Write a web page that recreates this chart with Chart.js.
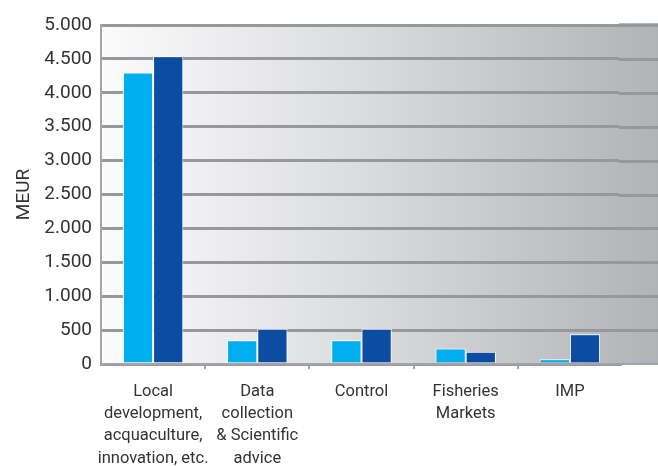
<!DOCTYPE html>
<html>
<head>
<meta charset="utf-8">
<script src="https://cdn.jsdelivr.net/npm/chart.js@4"></script>
<style>
  html, body { margin: 0; padding: 0; background: #ffffff; }
  #wrap { width: 658px; height: 466px; position: relative; }
</style>
</head>
<body>
<div id="wrap"><canvas id="c"></canvas></div>
<script>
// Budget per measure, million EUR
const categories = [
  ["Local", "development,", "acquaculture,", "innovation, etc."],
  ["Data", "collection", "& Scientific", "advice"],
  ["Control"],
  ["Fisheries", "Markets"],
  ["IMP"]
];
const seriesA = [4300, 350, 350, 230, 70];
const seriesB = [4540, 520, 520, 180, 440];
const yTicks = [0, 500, 1000, 1500, 2000, 2500, 3000, 3500, 4000, 4500, 5000];

function fmt(v) {
  return String(v).replace(/\B(?=(\d{3})+(?!\d))/g, ".");
}

function panelGradient(ctx, a, width) {
  const g = ctx.createLinearGradient(a.left, 0, width, 0);
  g.addColorStop(0, '#fbfbfc');
  g.addColorStop(0.45, '#dcdddf');
  g.addColorStop(1, '#b2b3b7');
  return g;
}

// strip past the last category: panel and grid lines carried on to the canvas edge
function drawStrip(chart) {
  const { ctx, chartArea: a, width, scales } = chart;
  const x0 = a.right - 3;
  ctx.save();
  ctx.fillStyle = panelGradient(ctx, a, width);
  ctx.fillRect(x0, a.top - 2, width - x0, a.bottom - a.top + 1);
  ctx.lineWidth = 3;
  ctx.strokeStyle = '#97989b';
  ctx.beginPath();
  yTicks.forEach(v => {
    if (v === 0) return;
    const y = Math.round(scales.y.getPixelForValue(v)) + 0.5;
    ctx.moveTo(x0, y);
    ctx.lineTo(width, y);
  });
  ctx.stroke();
  const y0 = Math.round(scales.y.getPixelForValue(0));
  ctx.strokeStyle = '#a3a4a6';
  ctx.lineWidth = 2;
  ctx.beginPath();
  ctx.moveTo(x0, y0);
  ctx.lineTo(width, y0);
  ctx.stroke();
  ctx.restore();
}

// Gradient panel behind the plot, running to the right edge of the canvas
const panel = {
  id: 'panel',
  beforeDraw(chart) {
    const { ctx, chartArea: a, width } = chart;
    ctx.save();
    ctx.fillStyle = panelGradient(ctx, a, width);
    ctx.fillRect(a.left, a.top, width - a.left, a.bottom - a.top);
    ctx.restore();
  },
  afterDraw(chart) { drawStrip(chart); }
};

new Chart(document.getElementById('c'), {
  type: 'bar',
  data: {
    labels: categories,
    datasets: [
      { data: seriesA, backgroundColor: '#00adee', borderColor: '#ffffff', borderWidth: 1 },
      { data: seriesB, backgroundColor: '#0c4da2', borderColor: '#ffffff', borderWidth: 1 }
    ]
  },
  options: {
    responsive: true,
    maintainAspectRatio: false,
    animation: false,
    devicePixelRatio: 1,
    layout: { padding: { top: 25, right: 36, left: 0, bottom: 0 } },
    plugins: { legend: { display: false }, tooltip: { enabled: false } },
    datasets: { bar: { categoryPercentage: 0.58, barPercentage: 1.0 } },
    scales: {
      x: {
        afterFit(scale) { scale.height = 102; },
        grid: {
          drawOnChartArea: false,
          drawTicks: true,
          tickLength: 5,
          color: c => (c.type === 'tick' && c.index > 0) ? '#a3a4a6' : 'rgba(0,0,0,0)',
          lineWidth: 2
        },
        border: { display: true, color: '#a3a4a6', width: 2 },
        ticks: {
          color: '#333333',
          padding: 12,
          maxRotation: 0,
          autoSkip: false,
          font: { family: 'Roboto', size: 16.5, lineHeight: 1.34 }
        }
      },
      y: {
        min: 0,
        max: 5000,
        afterFit(scale) { scale.width = 101; },
        afterBuildTicks(scale) { scale.ticks = yTicks.map(v => ({ value: v })); },
        grid: { color: '#97989b', lineWidth: 3, drawTicks: false },
        border: { display: true, color: '#a3a4a6', width: 2 },
        ticks: {
          color: '#333333',
          padding: 9,
          font: { family: 'Roboto', size: 19 },
          callback: v => fmt(v)
        },
        title: {
          display: true,
          text: 'MEUR',
          color: '#333333',
          padding: { top: 13, bottom: 0 },
          font: { family: 'Roboto', size: 19 }
        }
      }
    }
  },
  plugins: [panel]
});
</script>
</body>
</html>
